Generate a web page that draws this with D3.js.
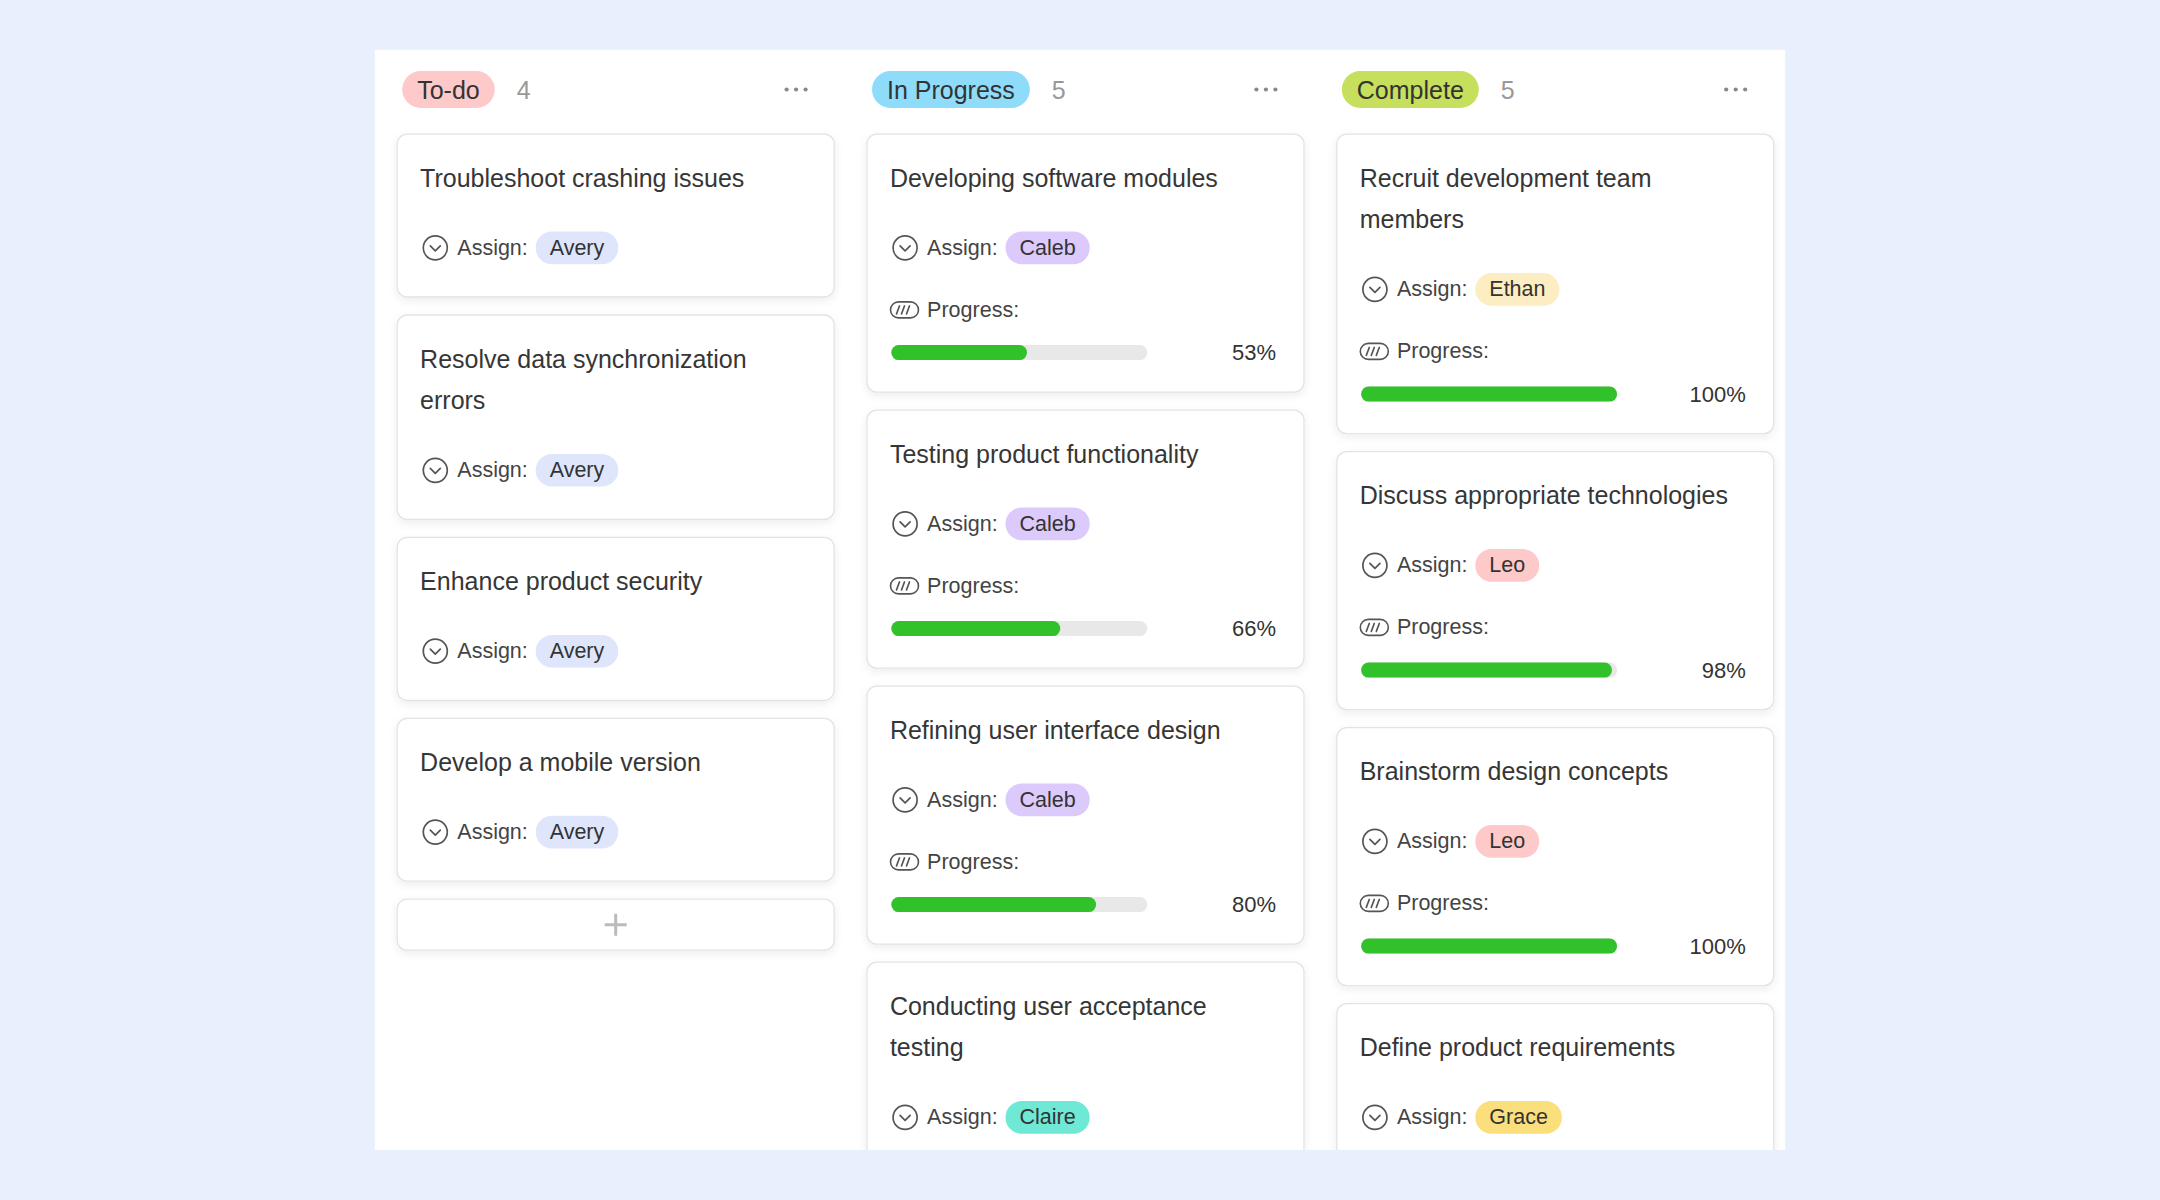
<!DOCTYPE html>
<html>
<head>
<meta charset="utf-8">
<script src="https://cdn.jsdelivr.net/npm/d3@7"></script>
<style>
  html, body { margin: 0; padding: 0; background: #e9f0fd; }
  svg { display: block; }
  text { font-family: "Liberation Sans", Arial, sans-serif; }
</style>
</head>
<body>
<script>
// ---------- data ----------
const columns = ["To-do", "In Progress", "Complete"];
const columnCounts = [4, 5, 5];
const columnColors = ["#fdc9c9", "#8edcfa", "#c6df5c"];

const taskColumn = [0, 0, 0, 0, 1, 1, 1, 1, 2, 2, 2, 2];
const taskTitles = [
  "Troubleshoot crashing issues",
  "Resolve data synchronization errors",
  "Enhance product security",
  "Develop a mobile version",
  "Developing software modules",
  "Testing product functionality",
  "Refining user interface design",
  "Conducting user acceptance testing",
  "Recruit development team members",
  "Discuss appropriate technologies",
  "Brainstorm design concepts",
  "Define product requirements"
];
const taskAssignees = ["Avery", "Avery", "Avery", "Avery", "Caleb", "Caleb", "Caleb", "Claire", "Ethan", "Leo", "Leo", "Grace"];
const taskProgress = [null, null, null, null, 53, 66, 80, null, 100, 98, 100, null];

const assigneeNames = ["Avery", "Caleb", "Claire", "Ethan", "Leo", "Grace"];
const assigneeColors = ["#dfe6fb", "#dccafc", "#6fe8d6", "#fcedc2", "#fdc9c9", "#fbdf7c"];

// ---------- layout ----------
const W = 2160, H = 1200;
const panel = { x: 374.7, y: 49.6, w: 1410.6, h: 1100.4 };
const cardW = 438;
const x = d3.scaleBand().domain(columns).range([396.7, 1774.3]).paddingInner(0.0677).paddingOuter(0);
const progressX = d3.scaleLinear().domain([0, 100]).range([0, 256]);
const assigneeColor = d3.scaleOrdinal().domain(assigneeNames).range(assigneeColors);

const svg = d3.select("body").append("svg").attr("width", W).attr("height", H);
const defs = svg.append("defs");
const f = defs.append("filter").attr("id", "shadow").attr("x", "-10%").attr("y", "-10%").attr("width", "120%").attr("height", "130%");
f.append("feDropShadow").attr("dx", 0).attr("dy", 3).attr("stdDeviation", 4).attr("flood-color", "#000").attr("flood-opacity", 0.07);
defs.append("clipPath").attr("id", "panelClip").append("rect")
  .attr("x", panel.x).attr("y", panel.y).attr("width", panel.w).attr("height", panel.h);

svg.append("rect").attr("width", W).attr("height", H).attr("fill", "#e9f0fd");
const root = svg.append("g").attr("clip-path", "url(#panelClip)");
root.append("rect").attr("x", panel.x).attr("y", panel.y).attr("width", panel.w).attr("height", panel.h).attr("fill", "#ffffff");

// text measuring helper
const measurer = svg.append("text").attr("visibility", "hidden");
function textW(str, size) {
  measurer.attr("font-size", size).text(str);
  return measurer.node().getComputedTextLength();
}
function wrap(str, size, maxW) {
  const words = str.split(" ");
  const lines = [];
  let cur = "";
  words.forEach(w => {
    const t = cur ? cur + " " + w : w;
    if (cur && textW(t, size) > maxW) { lines.push(cur); cur = w; }
    else cur = t;
  });
  if (cur) lines.push(cur);
  return lines;
}

const TITLE_SIZE = 25, SMALL = 21.5, HEAD_SIZE = 25;
const LINE_H = 41.5;
const headerY = 89.5;
const cardTop = 133.6, gap = 17;

columns.forEach((col, ci) => {
  const x0 = x(col);
  const g = root.append("g");

  // header badge
  const tw = textW(col, HEAD_SIZE);
  const bx = x0 + 5.5, bh = 37;
  g.append("rect").attr("x", bx).attr("y", headerY - bh / 2).attr("width", tw + 30).attr("height", bh)
    .attr("rx", bh / 2).attr("fill", columnColors[ci]);
  g.append("text").attr("x", bx + 15).attr("y", headerY).attr("dominant-baseline", "central")
    .attr("font-size", HEAD_SIZE).attr("fill", "#333").text(col);
  g.append("text").attr("x", bx + tw + 30 + 22).attr("y", headerY).attr("dominant-baseline", "central")
    .attr("font-size", HEAD_SIZE).attr("fill", "#999").text(columnCounts[ci]);
  // ellipsis
  const ex = x0 + cardW - 38.6;
  g.selectAll("circle.dot").data([-1, 0, 1]).enter().append("circle")
    .attr("cx", d => ex + d * 9.5).attr("cy", headerY).attr("r", 2.1).attr("fill", "#888");

  // cards
  let y = cardTop;
  taskTitles.forEach((title, ti) => {
    if (taskColumn[ti] !== ci) return;
    const lines = wrap(title, TITLE_SIZE, 385);
    const prog = taskProgress[ti];
    const assignY = 44 + (lines.length - 1) * LINE_H + 70.3;
    const progY = assignY + 62;
    const barY = progY + 42.7;
    const h = prog == null ? assignY + 49.6 : barY + 40;

    const c = g.append("g").attr("transform", `translate(${x0},${y})`);
    c.append("rect").attr("x", 0.5).attr("y", 0.5).attr("width", cardW - 1).attr("height", h - 1)
      .attr("rx", 10).attr("fill", "#fff").attr("stroke", "#e2e3e8").attr("stroke-width", 1.3)
      .attr("filter", "url(#shadow)");
    lines.forEach((ln, li) => {
      c.append("text").attr("x", 23.4).attr("y", 44 + li * LINE_H).attr("dominant-baseline", "central")
        .attr("font-size", TITLE_SIZE).attr("fill", "#363636").text(ln);
    });

    // assign row
    c.append("circle").attr("cx", 38.6).attr("cy", assignY).attr("r", 12)
      .attr("fill", "none").attr("stroke", "#555").attr("stroke-width", 1.7);
    c.append("path").attr("d", `M${38.6 - 5},${assignY - 2} L${38.6},${assignY + 3} L${38.6 + 5},${assignY - 2}`)
      .attr("fill", "none").attr("stroke", "#555").attr("stroke-width", 1.7).attr("stroke-linecap", "round").attr("stroke-linejoin", "round");
    c.append("text").attr("x", 60.6).attr("y", assignY).attr("dominant-baseline", "central")
      .attr("font-size", SMALL).attr("fill", "#444").text("Assign:");
    const name = taskAssignees[ti];
    const nw = textW(name, SMALL);
    c.append("rect").attr("x", 139).attr("y", assignY - 16.3).attr("width", nw + 28).attr("height", 32.6)
      .attr("rx", 16.3).attr("fill", assigneeColor(name));
    c.append("text").attr("x", 139 + 14).attr("y", assignY).attr("dominant-baseline", "central")
      .attr("font-size", SMALL).attr("fill", "#333").text(name);

    if (prog != null) {
      // progress icon
      const ix = 24, iy = progY - 8;
      c.append("rect").attr("x", ix).attr("y", iy).attr("width", 28).attr("height", 16).attr("rx", 8)
        .attr("fill", "none").attr("stroke", "#555").attr("stroke-width", 1.6);
      [0, 5, 10].forEach(d => {
        c.append("line").attr("x1", ix + 6 + d).attr("y1", iy + 12).attr("x2", ix + 9 + d).attr("y2", iy + 4)
          .attr("stroke", "#555").attr("stroke-width", 1.6).attr("stroke-linecap", "round");
      });
      c.append("text").attr("x", 60.6).attr("y", progY).attr("dominant-baseline", "central")
        .attr("font-size", SMALL).attr("fill", "#444").text("Progress:");
      // bar
      c.append("rect").attr("x", 24.8).attr("y", barY - 7.5).attr("width", progressX(100)).attr("height", 15)
        .attr("rx", 7.5).attr("fill", "#e8e8e8");
      c.append("rect").attr("x", 24.8).attr("y", barY - 7.5).attr("width", progressX(prog)).attr("height", 15)
        .attr("rx", 7.5).attr("fill", "#30c12b");
      c.append("text").attr("x", cardW - 28.5).attr("y", barY).attr("dominant-baseline", "central")
        .attr("text-anchor", "end").attr("font-size", 22).attr("fill", "#333").text(prog + "%");
    }
    y += h + gap;
  });

  // add button
  const pb = g.append("g").attr("transform", `translate(${x0},${y})`);
  pb.append("rect").attr("x", 0.5).attr("y", 0.5).attr("width", cardW - 1).attr("height", 51)
    .attr("rx", 10).attr("fill", "#fff").attr("stroke", "#e2e3e8").attr("stroke-width", 1.3)
    .attr("filter", "url(#shadow)");
  pb.append("path").attr("d", `M${cardW / 2 - 11},26 H${cardW / 2 + 11} M${cardW / 2},15 V37`)
    .attr("stroke", "#bbb").attr("stroke-width", 3);
});
measurer.remove();
</script>
</body>
</html>
